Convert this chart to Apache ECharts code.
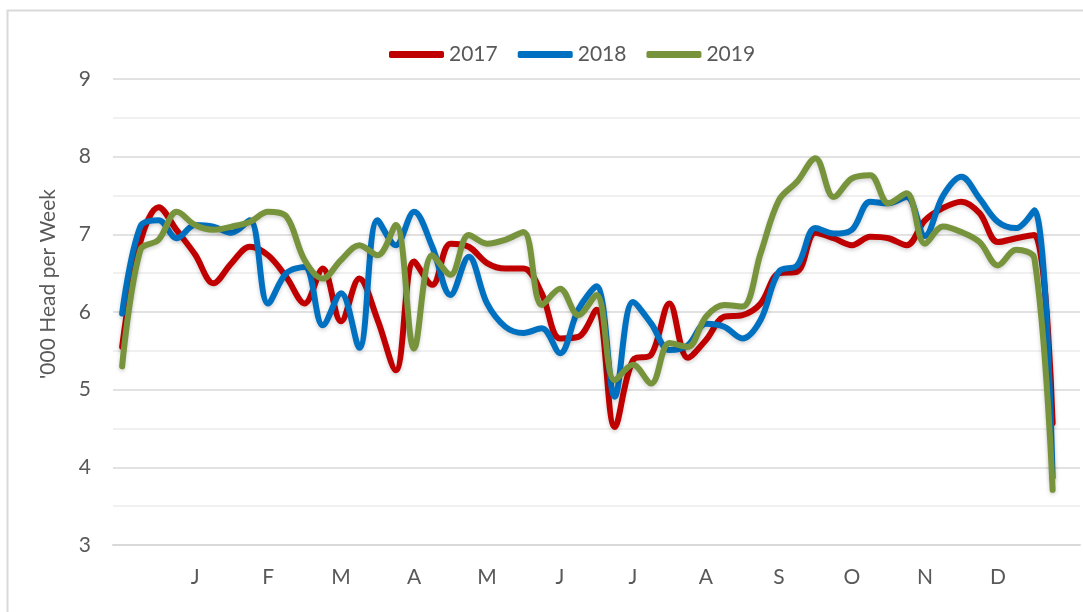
<!DOCTYPE html>
<html>
<head>
<meta charset="utf-8">
<script src="https://cdn.jsdelivr.net/npm/echarts@6/dist/echarts.min.js"></script>
<style>
html,body{margin:0;padding:0;background:#fff;}
#chart{width:1083px;height:612px;}
</style>
</head>
<body>
<div id="chart"></div>
<script>
// Weekly categories (53 slots, last one empty)
const weeks = [1,2,3,4,5,6,7,8,9,10,11,12,13,14,15,16,17,18,19,20,21,22,23,24,25,26,27,28,29,30,31,32,33,34,35,36,37,38,39,40,41,42,43,44,45,46,47,48,49,50,51,52,53];
// Month tick labels by week slot
const weekLabels = ['','','','','J','','','','F','','','','M','','','','A','','','','M','','','','J','','','','J','','','','A','','','','S','','','','O','','','','N','','','','D','','','',''];
const yTicks = [3,4,5,6,7,8,9];

const s2017 = [5.55,6.9,7.35,7.05,6.74,6.37,6.63,6.84,6.73,6.45,6.11,6.56,5.88,6.43,5.9,5.25,6.65,6.35,6.88,6.84,6.63,6.56,6.56,6.24,5.66,5.68,6.03,4.52,5.38,5.45,6.11,5.41,5.64,5.94,5.96,6.11,6.5,6.52,7.02,6.95,6.86,6.97,6.95,6.86,7.18,7.34,7.42,7.27,6.9,6.95,6.99,4.57];
const s2018 = [5.98,7.1,7.18,6.95,7.12,7.1,7.02,7.18,6.11,6.5,6.58,5.83,6.24,5.54,7.18,6.86,7.29,6.84,6.22,6.71,6.11,5.81,5.73,5.79,5.47,6.03,6.33,4.91,6.13,5.85,5.51,5.57,5.85,5.81,5.66,5.9,6.52,6.6,7.08,7.01,7.06,7.42,7.4,7.48,6.98,7.5,7.74,7.46,7.16,7.08,7.31,3.87];
const s2019 = [5.3,6.8,6.93,7.29,7.12,7.06,7.1,7.16,7.29,7.23,6.67,6.43,6.67,6.86,6.73,7.12,5.53,6.73,6.48,6.99,6.88,6.93,7.03,6.09,6.3,5.96,6.22,5.12,5.32,5.08,5.6,5.55,5.94,6.09,6.07,6.76,7.44,7.68,7.98,7.48,7.72,7.76,7.4,7.53,6.88,7.1,7.03,6.9,6.6,6.8,6.69,3.71];

const seriesNames = ['2017','2018','2019'];
const seriesColors = ['#C00000','#0070C0','#77933C'];
const seriesData = [s2017, s2018, s2019];

const FONT = 'Lato, "Open Sans", sans-serif';
const TXT = '#595959';

const chart = echarts.init(document.getElementById('chart'), null, {renderer:'canvas'});
chart.setOption({
  animation: false,
  backgroundColor: '#fff',
  graphic: [{
    type: 'rect', left: 5, top: 8, shape: {width: 1200, height: 800},
    style: {fill: 'none', stroke: '#d9d9d9', lineWidth: 2}, silent: true, z: -10
  }],
  legend: {
    left: 384, top: 39,
    itemGap: 20, itemWidth: 55, itemHeight: 7,
    icon: 'roundRect',
    textStyle: {fontFamily: FONT, fontSize: 21, color: TXT},
    data: seriesNames
  },
  grid: {left: 113, right: 3, top: 79, bottom: 67, containLabel: false},
  xAxis: {
    type: 'category',
    data: weeks,
    boundaryGap: true,
    axisLine: {show: true, lineStyle: {color: '#d9d9d9', width: 2}},
    axisTick: {show: false},
    axisLabel: {
      interval: 0, margin: 22,
      fontFamily: FONT, fontSize: 21, color: TXT,
      formatter: function (v, i) { return weekLabels[i] || ''; }
    },
    splitLine: {show: false}
  },
  yAxis: {
    type: 'value',
    min: yTicks[0], max: yTicks[yTicks.length - 1], interval: 1,
    name: "'000 Head per Week",
    nameLocation: 'middle',
    nameGap: 54,
    nameTextStyle: {fontFamily: FONT, fontSize: 21, color: TXT, padding: [0, 0, 0, 56]},
    axisLine: {show: false},
    axisTick: {show: false},
    axisLabel: {margin: 22, fontFamily: FONT, fontSize: 21, color: TXT},
    splitLine: {show: true, lineStyle: {color: '#d9d9d9', width: 1.5}},
    minorTick: {show: false, splitNumber: 2},
    minorSplitLine: {show: true, lineStyle: {color: '#ececec', width: 1.5}}
  },
  series: seriesNames.map(function (n, k) {
    return {
      name: n, type: 'line', data: seriesData[k],
      smooth: 0.35, symbol: 'none',
      itemStyle: {color: seriesColors[k]},
      lineStyle: {color: seriesColors[k], width: 6, cap: 'round', join: 'round',
        shadowColor: 'rgba(0,0,0,0.18)', shadowBlur: 4, shadowOffsetY: 2}
    };
  })
});
</script>
</body>
</html>
